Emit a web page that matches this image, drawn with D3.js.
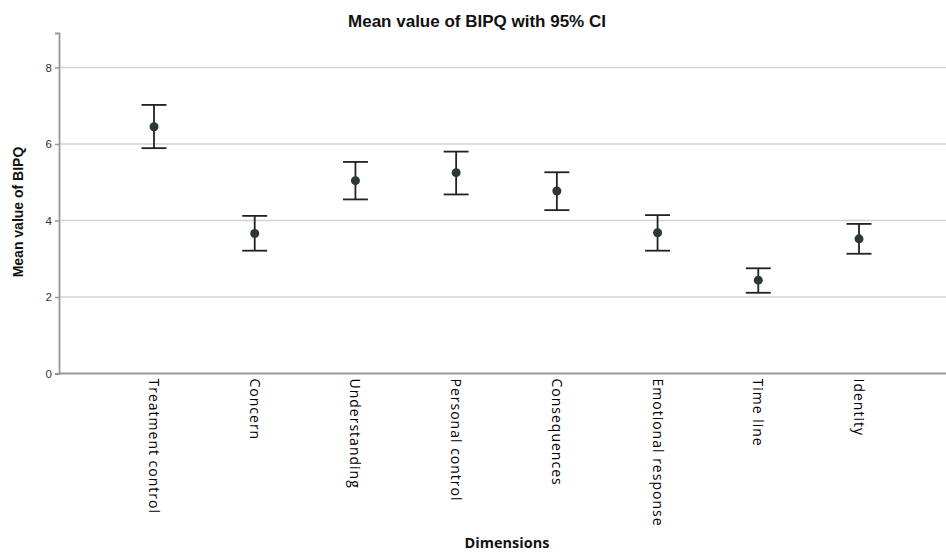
<!DOCTYPE html>
<html>
<head>
<meta charset="utf-8">
<script src="https://cdn.jsdelivr.net/npm/d3@7"></script>
<style>
  body { margin: 0; background: #fff; }
  svg { display: block; }
</style>
</head>
<body>
<svg id="chart"></svg>
<script>
var dimensions = ["Treatment control", "Concern", "Understanding", "Personal control",
    "Consequences", "Emotional response", "Time line", "Identity"];
var means = [6.45, 3.66, 5.04, 5.25, 4.77, 3.68, 2.44, 3.52];
var lowerCI = [5.89, 3.21, 4.55, 4.68, 4.27, 3.21, 2.11, 3.13];
var upperCI = [7.02, 4.12, 5.53, 5.80, 5.26, 4.14, 2.75, 3.91];
var yTicks = [0, 2, 4, 6, 8];

var width = 946;
var height = 553;
var axisLeft = 59;
var axisBottom = 373.5;

var svg = d3.select("#chart").attr("width", width).attr("height", height);

var xScale = d3.scalePoint()
    .domain(dimensions)
    .range([154, 859]);

var yScale = d3.scaleLinear()
    .domain([0, 8.9])
    .range([axisBottom, 33]);

// gridlines
svg.append("g")
    .selectAll("line")
    .data(yTicks.filter(d => d > 0))
    .enter().append("line")
    .attr("x1", axisLeft)
    .attr("x2", width)
    .attr("y1", d => yScale(d))
    .attr("y2", d => yScale(d))
    .attr("stroke", "#d3d3d3")
    .attr("stroke-width", 1.6);

// y axis
var yAxis = svg.append("g")
    .attr("transform", `translate(${axisLeft},0)`)
    .call(d3.axisLeft(yScale).tickValues(yTicks).tickSize(4).tickPadding(3));
yAxis.select(".domain").attr("stroke", "#999").attr("stroke-width", 1.8);
yAxis.selectAll(".tick line").attr("stroke", "#999").attr("stroke-width", 1.5);
yAxis.selectAll(".tick text")
    .attr("fill", "#333")
    .attr("font-family", "Liberation Sans, Arial, sans-serif")
    .attr("font-size", "11.5px");

// x axis
var xAxis = svg.append("g")
    .attr("transform", `translate(0,${axisBottom})`);
xAxis.append("line")
    .attr("x1", axisLeft)
    .attr("x2", width)
    .attr("stroke", "#999")
    .attr("stroke-width", 1.8);

xAxis.selectAll("text")
    .data(dimensions)
    .enter().append("text")
    .attr("transform", d => `translate(${xScale(d) - 5},5) rotate(90)`)
    .attr("text-anchor", "start")
    .attr("fill", "#000")
    .attr("font-family", "Open Sans, sans-serif")
    .attr("font-size", "14px")
    .attr("letter-spacing", "1px")
    .text(d => d);

// error bars
var rows = dimensions.map((d, i) => ({ name: d, mean: means[i], lo: lowerCI[i], hi: upperCI[i] }));
var capHalf = 12.5;

var bars = svg.append("g").selectAll("g")
    .data(rows)
    .enter().append("g");

bars.append("line")
    .attr("x1", d => xScale(d.name))
    .attr("x2", d => xScale(d.name))
    .attr("y1", d => yScale(d.lo))
    .attr("y2", d => yScale(d.hi))
    .attr("stroke", "#222")
    .attr("stroke-width", 1.8);

bars.append("line")
    .attr("x1", d => xScale(d.name) - capHalf)
    .attr("x2", d => xScale(d.name) + capHalf)
    .attr("y1", d => yScale(d.hi))
    .attr("y2", d => yScale(d.hi))
    .attr("stroke", "#222")
    .attr("stroke-width", 1.8);

bars.append("line")
    .attr("x1", d => xScale(d.name) - capHalf)
    .attr("x2", d => xScale(d.name) + capHalf)
    .attr("y1", d => yScale(d.lo))
    .attr("y2", d => yScale(d.lo))
    .attr("stroke", "#222")
    .attr("stroke-width", 1.8);

bars.append("circle")
    .attr("cx", d => xScale(d.name))
    .attr("cy", d => yScale(d.mean))
    .attr("r", 4.5)
    .attr("fill", "#2c3833");

// title
svg.append("text")
    .attr("x", 477)
    .attr("y", 27)
    .attr("text-anchor", "middle")
    .attr("font-family", "Liberation Sans, Arial, sans-serif")
    .attr("font-weight", "bold")
    .attr("font-size", "17px")
    .attr("fill", "#111")
    .text("Mean value of BIPQ with 95% CI");

// y axis label
svg.append("text")
    .attr("transform", `translate(23,212) rotate(-90)`)
    .attr("text-anchor", "middle")
    .attr("font-family", "Liberation Sans, Arial, sans-serif")
    .attr("font-weight", "bold")
    .attr("font-size", "14px")
    .attr("fill", "#111")
    .text("Mean value of BIPQ");

// x axis label
svg.append("text")
    .attr("x", 507)
    .attr("y", 548)
    .attr("text-anchor", "middle")
    .attr("font-family", "Open Sans, sans-serif")
    .attr("font-weight", "bold")
    .attr("font-size", "14.5px")
    .attr("fill", "#111")
    .text("Dimensions");
</script>
</body>
</html>
